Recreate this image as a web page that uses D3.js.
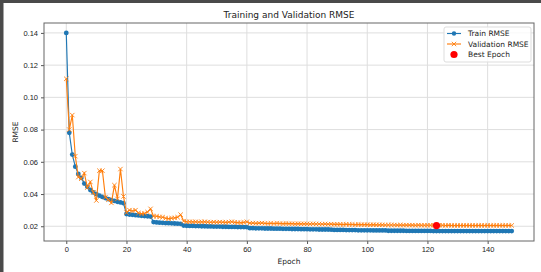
<!DOCTYPE html>
<html>
<head>
<meta charset="utf-8">
<script src="https://cdn.jsdelivr.net/npm/d3@7"></script>
<style>
  body { margin: 0; background: #fff; }
  svg { display: block; font-family: "DejaVu Sans", sans-serif; }
</style>
</head>
<body>
<svg id="chart"></svg>
<script>
// values
let trainRmse = [
  0.1400, 0.0780, 0.0645, 0.0570, 0.0525, 0.0500, 0.0465, 0.0445, 0.0425, 0.0410,
  0.0400, 0.0390, 0.0382, 0.0375, 0.0368, 0.0362, 0.0357, 0.0352, 0.0348, 0.0343,
  0.0276, 0.0273, 0.0271, 0.0269, 0.0267, 0.0265, 0.0263, 0.0262, 0.0260, 0.0226,
  0.0224, 0.0222, 0.0221, 0.0220, 0.0219, 0.0218, 0.0217, 0.0216, 0.0215, 0.0204,
  0.0203, 0.0202, 0.0202, 0.0201, 0.0201, 0.0200, 0.0200, 0.0199, 0.0199, 0.0198,
  0.0198, 0.0198, 0.0197, 0.0197, 0.0196, 0.0196, 0.0196, 0.0195, 0.0195, 0.0195,
  0.0194, 0.0188, 0.0188, 0.0187, 0.0187, 0.0187, 0.0186, 0.0186, 0.0186, 0.0185,
  0.0185, 0.0185, 0.0184, 0.0184, 0.0184, 0.0183, 0.0183, 0.0183, 0.0182, 0.0182,
  0.0182, 0.0181, 0.0181, 0.0181, 0.0180, 0.0180, 0.0180, 0.0180, 0.0179, 0.0177,
  0.0177, 0.0177, 0.0177, 0.0176, 0.0176, 0.0176, 0.0176, 0.0175, 0.0175, 0.0175,
  0.0175, 0.0175, 0.0174, 0.0174, 0.0174, 0.0174, 0.0174, 0.0172, 0.0172, 0.0172,
  0.0172, 0.0172, 0.0172, 0.0171, 0.0171, 0.0171, 0.0171, 0.0171, 0.0171, 0.0171,
  0.0171, 0.0171, 0.0170, 0.0170, 0.0170, 0.0170, 0.0170, 0.0170, 0.0170, 0.0170,
  0.0170, 0.0170, 0.0170, 0.0170, 0.0170, 0.0170, 0.0170, 0.0170, 0.0170, 0.0170,
  0.0170, 0.0170, 0.0170, 0.0170, 0.0170, 0.0170, 0.0170, 0.0170, 0.0170
];

let valRmse = [
  0.1115, 0.0800, 0.0890, 0.0635, 0.0505, 0.0495, 0.0530, 0.0440, 0.0475, 0.0410,
  0.0360, 0.0545, 0.0545, 0.0380, 0.0365, 0.0345, 0.0455, 0.0370, 0.0555, 0.0385,
  0.0285, 0.0300, 0.0295, 0.0300, 0.0282, 0.0278, 0.0280, 0.0288, 0.0308, 0.0262,
  0.0262, 0.0258, 0.0256, 0.0250, 0.0247, 0.0250, 0.0252, 0.0256, 0.0272, 0.0232,
  0.0228, 0.0228, 0.0227, 0.0228, 0.0226, 0.0227, 0.0228, 0.0226, 0.0225, 0.0226,
  0.0225, 0.0226, 0.0225, 0.0224, 0.0226, 0.0228, 0.0224, 0.0223, 0.0222, 0.0224,
  0.0228, 0.0219, 0.0220, 0.0218, 0.0219, 0.0220, 0.0218, 0.0217, 0.0218, 0.0217,
  0.0218, 0.0217, 0.0216, 0.0217, 0.0216, 0.0216, 0.0215, 0.0216, 0.0215, 0.0215,
  0.0215, 0.0214, 0.0215, 0.0214, 0.0214, 0.0213, 0.0214, 0.0213, 0.0213, 0.0212,
  0.0212, 0.0212, 0.0211, 0.0212, 0.0211, 0.0211, 0.0210, 0.0211, 0.0210, 0.0210,
  0.0210, 0.0209, 0.0210, 0.0209, 0.0209, 0.0209, 0.0208, 0.0208, 0.0208, 0.0208,
  0.0207, 0.0208, 0.0207, 0.0207, 0.0207, 0.0207, 0.0206, 0.0207, 0.0206, 0.0206,
  0.0206, 0.0206, 0.0206, 0.0204, 0.0206, 0.0206, 0.0205, 0.0206, 0.0205, 0.0205,
  0.0205, 0.0205, 0.0205, 0.0205, 0.0205, 0.0205, 0.0205, 0.0205, 0.0205, 0.0205,
  0.0205, 0.0205, 0.0205, 0.0205, 0.0205, 0.0205, 0.0205, 0.0205, 0.0205
];

let bestEpoch = 123;
let xTicks = [0, 20, 40, 60, 80, 100, 120, 140];
let yTicks = [0.02, 0.04, 0.06, 0.08, 0.10, 0.12, 0.14];

let width = 541;
let height = 272;
let margin = { left: 44, right: 7, top: 23, bottom: 31 };

let svg = d3.select("#chart").attr("width", width).attr("height", height);

// screenshot frame
svg.append("rect").attr("width", width).attr("height", height).attr("fill", "#fff");
svg.append("rect").attr("x", 0).attr("y", 0).attr("width", width).attr("height", 3).attr("fill", "#4a4a4a");
svg.append("rect").attr("x", 0).attr("y", 0).attr("width", 3.5).attr("height", height).attr("fill", "#4a4a4a");

let n = trainRmse.length;
let pad = (n - 1) * 0.05;
let x = d3.scaleLinear()
  .domain([-pad, n - 1 + pad])
  .range([margin.left, width - margin.right]);

let allVals = trainRmse.concat(valRmse);
let yMin = d3.min(allVals), yMax = d3.max(allVals);
let yPad = (yMax - yMin) * 0.05;
let y = d3.scaleLinear()
  .domain([yMin - yPad, yMax + yPad])
  .range([height - margin.bottom, margin.top]);

// grid
let grid = svg.append("g").attr("stroke", "#dedede").attr("stroke-width", 1);
grid.selectAll(".gx").data(xTicks).enter().append("line")
  .attr("x1", d => x(d)).attr("x2", d => x(d))
  .attr("y1", margin.top).attr("y2", height - margin.bottom);
grid.selectAll(".gy").data(yTicks).enter().append("line")
  .attr("x1", margin.left).attr("x2", width - margin.right)
  .attr("y1", d => y(d)).attr("y2", d => y(d));

// axes
let xAxis = svg.append("g")
  .attr("transform", `translate(0,${height - margin.bottom})`)
  .call(d3.axisBottom(x).tickValues(xTicks).tickSize(3).tickPadding(3).tickFormat(d3.format("d")));
let yAxis = svg.append("g")
  .attr("transform", `translate(${margin.left},0)`)
  .call(d3.axisLeft(y).tickValues(yTicks).tickSize(3).tickPadding(3).tickFormat(d3.format(".2f")));
[xAxis, yAxis].forEach(a => {
  a.select(".domain").remove();
  a.selectAll("line").attr("stroke", "#555");
  a.selectAll("text").attr("fill", "#222").style("font-size", "7.5px");
});

// frame of the axes
svg.append("rect")
  .attr("x", margin.left).attr("y", margin.top)
  .attr("width", width - margin.right - margin.left)
  .attr("height", height - margin.bottom - margin.top)
  .attr("fill", "none").attr("stroke", "#666").attr("stroke-width", 1);

let line = d3.line().x((d, i) => x(i)).y(d => y(d));

// train series
svg.append("path").datum(trainRmse)
  .attr("d", line).attr("fill", "none")
  .attr("stroke", "#1f77b4").attr("stroke-width", 1.15);
svg.append("g").selectAll("circle").data(trainRmse).enter().append("circle")
  .attr("cx", (d, i) => x(i)).attr("cy", d => y(d))
  .attr("r", 2.4).attr("fill", "#1f77b4");

// validation series
svg.append("path").datum(valRmse)
  .attr("d", line).attr("fill", "none")
  .attr("stroke", "#ff7f0e").attr("stroke-width", 1.15);
let ms = 2.2;
svg.append("g").selectAll("path").data(valRmse).enter().append("path")
  .attr("d", (d, i) => {
    let cx = x(i), cy = y(d);
    return `M${cx - ms},${cy - ms}L${cx + ms},${cy + ms}M${cx - ms},${cy + ms}L${cx + ms},${cy - ms}`;
  })
  .attr("stroke", "#ff7f0e").attr("stroke-width", 0.9).attr("fill", "none");

// best epoch
svg.append("circle")
  .attr("cx", x(bestEpoch)).attr("cy", y(valRmse[bestEpoch]))
  .attr("r", 3.6).attr("fill", "red");

// titles
svg.append("text")
  .attr("x", (margin.left + width - margin.right) / 2).attr("y", 18)
  .attr("text-anchor", "middle").style("font-size", "9px").attr("fill", "#222")
  .text("Training and Validation RMSE");
svg.append("text")
  .attr("x", (margin.left + width - margin.right) / 2).attr("y", 264)
  .attr("text-anchor", "middle").style("font-size", "7.5px").attr("fill", "#222")
  .text("Epoch");
svg.append("text")
  .attr("transform", `translate(18,${(margin.top + height - margin.bottom) / 2}) rotate(-90)`)
  .attr("text-anchor", "middle").style("font-size", "7.5px").attr("fill", "#222")
  .text("RMSE");

// legend
let lg = svg.append("g").attr("transform", "translate(444,27)");
lg.append("rect").attr("width", 87).attr("height", 35).attr("rx", 2)
  .attr("fill", "#fff").attr("fill-opacity", 0.8).attr("stroke", "#ddd");
let items = [
  { label: "Train RMSE", color: "#1f77b4", kind: "o" },
  { label: "Validation RMSE", color: "#ff7f0e", kind: "x" },
  { label: "Best Epoch", color: "red", kind: "dot" }
];
items.forEach((it, i) => {
  let cy = 6.5 + i * 10.5;
  if (it.kind !== "dot") {
    lg.append("line").attr("x1", 3).attr("x2", 17).attr("y1", cy).attr("y2", cy)
      .attr("stroke", it.color).attr("stroke-width", 1.15);
  }
  if (it.kind === "o") {
    lg.append("circle").attr("cx", 10).attr("cy", cy).attr("r", 2.2).attr("fill", it.color);
  } else if (it.kind === "x") {
    lg.append("path")
      .attr("d", `M${10 - ms},${cy - ms}L${10 + ms},${cy + ms}M${10 - ms},${cy + ms}L${10 + ms},${cy - ms}`)
      .attr("stroke", it.color).attr("stroke-width", 0.9);
  } else {
    lg.append("circle").attr("cx", 10).attr("cy", cy).attr("r", 3.6).attr("fill", it.color);
  }
  lg.append("text").attr("x", 24).attr("y", cy + 2.7)
    .style("font-size", "7.5px").attr("fill", "#222").text(it.label);
});
</script>
</body>
</html>
